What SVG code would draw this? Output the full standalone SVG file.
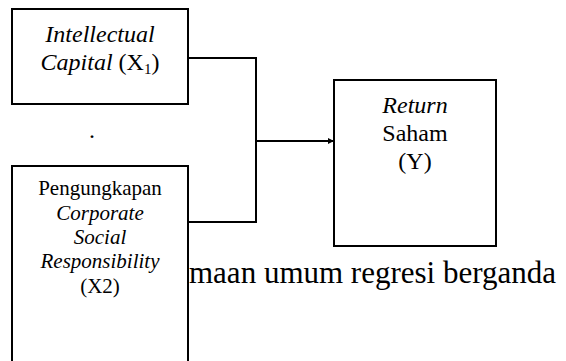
<svg xmlns="http://www.w3.org/2000/svg" width="566" height="361" viewBox="0 0 566 361">
  <style>
    .box { fill: #fff; stroke: #000; stroke-width: 2; }
    .wire { fill: none; stroke: #000; stroke-width: 2; }
    .t { font-family: "Liberation Serif", "Times New Roman", serif; fill: #000; text-anchor: middle; }
    .big { font-size: 24px; }
    .mid { font-size: 21px; }
    .cap { font-family: "Liberation Serif", "Times New Roman", serif; font-size: 31px; fill: #000; }
    .i { font-style: italic; }
  </style>
  <defs>
    <marker id="arrow" markerWidth="6" markerHeight="6" refX="5" refY="3" orient="auto" markerUnits="userSpaceOnUse">
      <path d="M0,0 L6,3 L0,6 Z" fill="#000"/>
    </marker>
  </defs>

  <rect width="566" height="361" fill="#fff"/>

  <!-- caption line running behind the lower box -->
  <text class="cap" x="189" y="283">maan umum regresi berganda</text>

  <g id="connectors">
    <polyline class="wire" points="188,58 256,58 256,222 188,222"/>
    <line class="wire" x1="256" y1="141" x2="333" y2="141" marker-end="url(#arrow)"/>
  </g>

  <g id="x1">
    <rect class="box" x="12" y="9" width="176" height="95"/>
    <text class="t big i" x="100" y="42">Intellectual</text>
    <text class="t big" x="100" y="70"><tspan class="i">Capital</tspan> (X<tspan font-size="15" dy="4">1</tspan><tspan dy="-4">)</tspan></text>
  </g>

  <text class="t big" x="92" y="138">.</text>

  <g id="x2">
    <rect class="box" x="12" y="166" width="176" height="200"/>
    <text class="t mid" x="100" y="195">Pengungkapan</text>
    <text class="t mid i" x="100" y="220">Corporate</text>
    <text class="t mid i" x="100" y="244">Social</text>
    <text class="t mid i" x="100" y="268">Responsibility</text>
    <text class="t mid" x="100" y="293">(X2)</text>
  </g>

  <g id="y">
    <rect class="box" x="334" y="80" width="162" height="166"/>
    <text class="t big i" x="415" y="113">Return</text>
    <text class="t big" x="415" y="141">Saham</text>
    <text class="t big" x="415" y="169">(Y)</text>
  </g>
</svg>
